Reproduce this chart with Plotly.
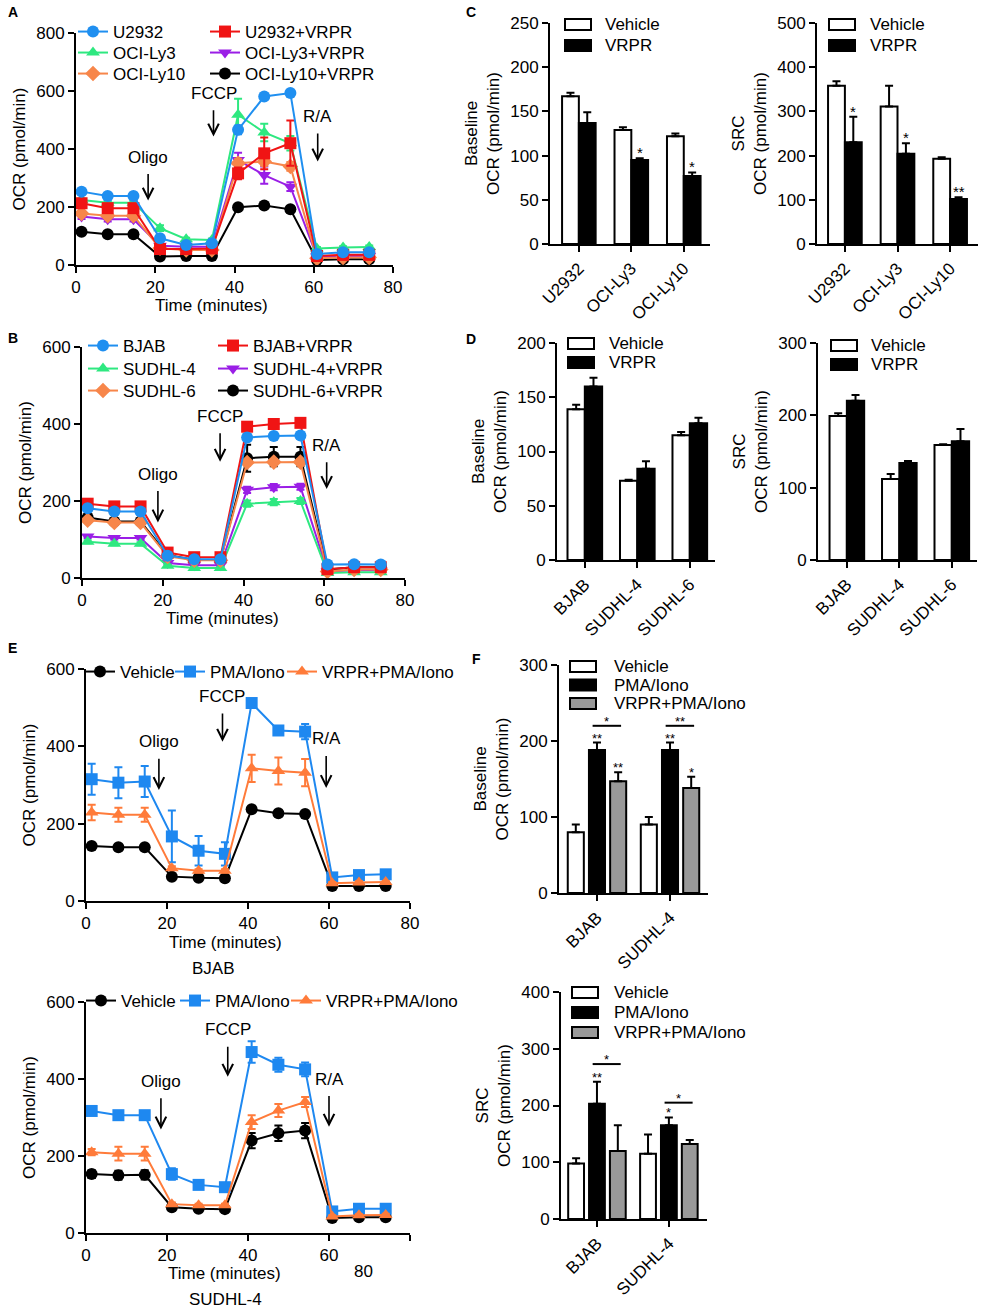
import plotly.graph_objects as go

W, H = 988, 1313
FONT = "Arial, Liberation Sans, sans-serif"
FS = 17

# ---------------- data ----------------
time_min = [1.4, 8.0, 14.5, 21.2, 27.8, 34.3, 40.9, 47.5, 54.1, 60.8, 67.4, 74.0]

# Panel A
a_u2932 = [253, 238, 238, 92, 69, 75, 466, 581, 593, 38, 44, 44]
a_ocily3 = [224, 215, 215, 127, 89, 86, 518, 457, 420, 57, 60, 62]
a_ocily10 = [178, 170, 170, 58, 52, 52, 351, 357, 340, 23, 26, 26]
a_u2932_vrpr = [213, 196, 196, 55, 55, 57, 316, 385, 420, 31, 35, 35]
a_ocily3_vrpr = [167, 158, 158, 66, 63, 63, 362, 310, 270, 29, 31, 31]
a_ocily10_vrpr = [115, 106, 106, 29, 31, 31, 199, 205, 192, 17, 20, 20]
a_u2932_err = [5, 5, 5, 8, 5, 5, 15, 8, 8, 5, 5, 5]
a_ocily3_err = [5, 5, 5, 10, 5, 5, 55, 30, 25, 5, 5, 5]
a_ocily10_err = [5, 5, 5, 5, 5, 5, 15, 15, 15, 3, 3, 3]
a_u2932_vrpr_err = [10, 10, 10, 8, 5, 5, 20, 55, 78, 5, 5, 5]
a_ocily3_vrpr_err = [8, 8, 8, 5, 5, 5, 25, 30, 15, 3, 3, 3]
a_ocily10_vrpr_err = [5, 5, 5, 3, 3, 3, 8, 8, 8, 3, 3, 3]

# Panel B
b_bjab = [181, 173, 173, 58, 49, 49, 365, 369, 370, 35, 36, 35]
b_sudhl4 = [94, 89, 89, 32, 26, 26, 193, 197, 200, 13, 15, 15]
b_sudhl6 = [150, 144, 144, 56, 46, 46, 300, 301, 301, 17, 22, 22]
b_bjab_vrpr = [193, 186, 186, 66, 54, 54, 393, 400, 403, 23, 28, 28]
b_sudhl4_vrpr = [108, 104, 104, 39, 33, 33, 229, 236, 237, 17, 20, 20]
b_sudhl6_vrpr = [157, 147, 147, 60, 47, 47, 311, 315, 315, 22, 28, 28]
b_small_err = [4, 4, 4, 3, 3, 3, 8, 8, 8, 2, 2, 2]
b_sudhl6_vrpr_err = [6, 6, 6, 4, 4, 4, 35, 25, 25, 3, 3, 3]

# Panel C
c_cells = ["U2932", "OCI-Ly3", "OCI-Ly10"]
c_base_vehicle = [167, 129, 122]
c_base_vehicle_err = [4, 3, 3]
c_base_vrpr = [137, 95, 77]
c_base_vrpr_err = [12, 2, 4]
c_base_vrpr_sig = ["", "*", "*"]
c_src_vehicle = [358, 311, 193]
c_src_vehicle_err = [10, 47, 3]
c_src_vrpr = [230, 204, 102]
c_src_vrpr_err = [58, 24, 4]
c_src_vrpr_sig = ["*", "*", "**"]

# Panel D
d_cells = ["BJAB", "SUDHL-4", "SUDHL-6"]
d_base_vehicle = [139, 73, 115]
d_base_vehicle_err = [4, 1, 3]
d_base_vrpr = [160, 84, 126]
d_base_vrpr_err = [8, 7, 5]
d_src_vehicle = [199, 112, 159]
d_src_vehicle_err = [4, 7, 1]
d_src_vrpr = [220, 134, 164]
d_src_vrpr_err = [8, 3, 17]

# Panel E (BJAB)
e1_vehicle = [142, 139, 139, 63, 60, 59, 237, 227, 225, 39, 39, 39]
e1_vehicle_err = [4, 4, 4, 4, 4, 4, 6, 6, 6, 3, 3, 3]
e1_pma = [315, 306, 309, 167, 130, 122, 512, 441, 438, 61, 67, 69]
e1_pma_err = [40, 40, 40, 67, 38, 30, 10, 10, 20, 4, 4, 4]
e1_vrpr = [229, 223, 223, 85, 78, 78, 343, 336, 332, 46, 48, 49]
e1_vrpr_err = [20, 18, 18, 5, 4, 4, 35, 35, 35, 3, 3, 3]

# Panel E (SUDHL-4)
e2_vehicle = [153, 150, 151, 67, 63, 62, 240, 259, 266, 39, 41, 41]
e2_vehicle_err = [10, 12, 12, 4, 4, 4, 20, 20, 20, 3, 3, 3]
e2_pma = [317, 306, 306, 153, 125, 119, 470, 437, 425, 56, 63, 63]
e2_pma_err = [8, 8, 8, 15, 6, 6, 28, 18, 18, 4, 4, 4]
e2_vrpr = [210, 206, 206, 75, 72, 72, 288, 318, 340, 43, 46, 47]
e2_vrpr_err = [8, 18, 18, 4, 4, 4, 18, 17, 13, 3, 3, 3]

# Panel F
f_cells = ["BJAB", "SUDHL-4"]
f_base_vehicle = [80, 90]
f_base_vehicle_err = [10, 10]
f_base_pma = [188, 188]
f_base_pma_err = [10, 10]
f_base_pma_sig = ["**", "**"]
f_base_vrpr = [147, 138]
f_base_vrpr_err = [12, 15]
f_base_vrpr_sig = ["**", "*"]
f_base_bracket_y = [220, 220]
f_base_bracket_sig = ["*", "**"]
f_src_vehicle = [98, 115]
f_src_vehicle_err = [9, 34]
f_src_pma = [203, 165]
f_src_pma_err = [39, 14]
f_src_pma_sig = ["**", "*"]
f_src_vrpr = [120, 132]
f_src_vrpr_err = [45, 7]
f_src_vrpr_sig = ["", ""]
f_src_bracket_y = [273, 205]
f_src_bracket_sig = ["*", "*"]

BLUE = "#1f8ff0"
GREEN = "#2ee880"
ORANGE = "#f7864a"
RED = "#f01414"
PURPLE = "#9a1ee6"
BLACK = "#000000"
E_BLUE = "#1e88f0"
E_ORANGE = "#ff7b3a"

fig = go.Figure()
annotations = []
shapes = []
layout = {}
legend_count = [0]


def xd(p0, p1):
    return [p0 / W, p1 / W]


def yd(top, bottom):
    return [1 - bottom / H, 1 - top / H]


def axname(i):
    return "" if i == 1 else str(i)


AX = dict(showline=True, linecolor="black", linewidth=2, ticks="outside",
          ticklen=6, tickwidth=2, tickcolor="black", showgrid=False,
          zeroline=False, mirror=False, automargin=False)


def text_at(px, py, t, fs=FS, xanchor="center"):
    annotations.append(dict(x=px / W, y=1 - py / H, xref="paper", yref="paper", text=t,
                            showarrow=False, xanchor=xanchor, yanchor="middle",
                            font=dict(size=fs, color="black")))


def set_axes(i, xdom, ydom, xrange, yrange, ytickvals, ytitle=None, xtickvals=None,
             xticktext=None, tickangle=0, fs=FS):
    s = axname(i)
    xa = dict(AX, domain=xdom, range=xrange, anchor="y" + s,
              tickfont=dict(size=fs, color="black", family=FONT),
              tickangle=tickangle)
    if xtickvals is not None:
        xa["tickvals"] = xtickvals
    if xticktext is not None:
        xa["ticktext"] = xticktext
    ya = dict(AX, domain=ydom, range=yrange, anchor="x" + s, tickvals=ytickvals,
              tickfont=dict(size=fs, color="black", family=FONT))
    if ytitle:
        ya["title"] = dict(text=ytitle, font=dict(size=fs, color="black"), standoff=6)
    layout["xaxis" + s] = xa
    layout["yaxis" + s] = ya


def new_legend(text_x, row_y):
    legend_count[0] += 1
    n = legend_count[0]
    key = "legend" if n == 1 else "legend%d" % n
    layout[key] = dict(bgcolor="rgba(0,0,0,0)", xanchor="left", yanchor="middle",
                       x=(text_x - 40) / W, y=1 - row_y / H,
                       font=dict(size=FS, color="black", family=FONT))
    return key


def line_tr(y, err, name, color, symbol, i, text_x, row_y, size=12):
    s = axname(i)
    fig.add_trace(go.Scatter(
        x=time_min, y=y, mode="lines+markers", name=name,
        line=dict(color=color, width=2),
        marker=dict(color=color, symbol=symbol, size=size, line=dict(width=0)),
        error_y=dict(type="data", array=err, visible=True, color=color,
                     thickness=2, width=4),
        xaxis="x" + s, yaxis="y" + s, legend=new_legend(text_x, row_y),
        cliponaxis=False))


def bar_tr(vals, errs, fill, offset, width, i):
    s = axname(i)
    n = len(vals)
    fig.add_trace(go.Bar(
        x=list(range(n)), y=vals, width=width, offset=offset,
        marker=dict(color=fill, line=dict(color="black", width=2)),
        error_y=dict(type="data", array=errs, arrayminus=[0] * n,
                     symmetric=False, color="black", thickness=2, width=4),
        showlegend=False, xaxis="x" + s, yaxis="y" + s))


def stars(vals, errs, sig, center, i, fs=15):
    s = axname(i)
    for k, (v, e, t) in enumerate(zip(vals, errs, sig)):
        if t:
            annotations.append(dict(x=k + center, y=v + e, xref="x" + s, yref="y" + s,
                                    text=t, showarrow=False, yanchor="bottom",
                                    yshift=-5, font=dict(size=fs, color="black")))


def arrow(i, x, y_tip, y_text, text):
    s = axname(i)
    annotations.append(dict(x=x, y=y_tip, ax=x, ay=y_text, xref="x" + s, yref="y" + s,
                            axref="x" + s, ayref="y" + s, text=text, showarrow=True,
                            arrowhead=5, arrowsize=1.3, arrowwidth=1.6, arrowcolor="black",
                            startstandoff=6, font=dict(size=FS, color="black")))


def bar_legend(x_box, y_top, step, items, text_dx, box_w=26, box_h=11):
    for k, (label, fill) in enumerate(items):
        y0 = y_top + k * step
        shapes.append(dict(type="rect", xref="paper", yref="paper",
                           x0=x_box / W, x1=(x_box + box_w) / W,
                           y0=1 - (y0 + box_h) / H, y1=1 - y0 / H,
                           line=dict(color="black", width=2), fillcolor=fill))
        text_at(x_box + text_dx, y0 + box_h / 2, label, xanchor="left")


def letter(px, py, t):
    text_at(px, py, "<b>%s</b>" % t, fs=14, xanchor="left")


# ---------------- Panel A ----------------
set_axes(1, xd(76, 393), yd(33, 265), [0, 80], [0, 800], [0, 200, 400, 600, 800],
         ytitle="OCR (pmol/min)", xtickvals=[0, 20, 40, 60, 80])
line_tr(a_ocily10_vrpr, a_ocily10_vrpr_err, "OCI-Ly10+VRPR", BLACK, "circle", 1, 245, 74)
line_tr(a_ocily3_vrpr, a_ocily3_vrpr_err, "OCI-Ly3+VRPR", PURPLE, "triangle-down", 1, 245, 53)
line_tr(a_ocily10, a_ocily10_err, "OCI-Ly10", ORANGE, "diamond", 1, 113, 74)
line_tr(a_ocily3, a_ocily3_err, "OCI-Ly3", GREEN, "triangle-up", 1, 113, 53)
line_tr(a_u2932_vrpr, a_u2932_vrpr_err, "U2932+VRPR", RED, "square", 1, 245, 32)
line_tr(a_u2932, a_u2932_err, "U2932", BLUE, "circle", 1, 113, 32)
arrow(1, 18.2, 222, 372, "Oligo")
arrow(1, 34.7, 443, 592, "FCCP")
arrow(1, 61.0, 357, 512, "R/A")
text_at(211, 305, "Time (minutes)")

# ---------------- Panel B ----------------
set_axes(2, xd(82, 405), yd(347, 578), [0, 80], [0, 600], [0, 200, 400, 600],
         ytitle="OCR (pmol/min)", xtickvals=[0, 20, 40, 60, 80])
line_tr(b_sudhl6_vrpr, b_sudhl6_vrpr_err, "SUDHL-6+VRPR", BLACK, "circle", 2, 253, 391)
line_tr(b_sudhl4_vrpr, b_small_err, "SUDHL-4+VRPR", PURPLE, "triangle-down", 2, 253, 369)
line_tr(b_sudhl4, b_small_err, "SUDHL-4", GREEN, "triangle-up", 2, 123, 369)
line_tr(b_sudhl6, b_small_err, "SUDHL-6", ORANGE, "diamond", 2, 123, 391)
line_tr(b_bjab_vrpr, b_small_err, "BJAB+VRPR", RED, "square", 2, 253, 346)
line_tr(b_bjab, b_small_err, "BJAB", BLUE, "circle", 2, 123, 346)
arrow(2, 18.8, 144, 270, "Oligo")
arrow(2, 34.2, 302, 420, "FCCP")
arrow(2, 60.6, 231, 345, "R/A")
text_at(222, 618, "Time (minutes)")

# ---------------- Panel C ----------------
set_axes(3, xd(550, 710), yd(23, 244), [-0.55, 2.5], [0, 250], [0, 50, 100, 150, 200, 250],
         ytitle="Baseline<br>OCR (pmol/min)", xtickvals=[0, 1, 2], xticktext=c_cells, tickangle=-45)
bar_tr(c_base_vehicle, c_base_vehicle_err, "white", -0.32, 0.32, 3)
bar_tr(c_base_vrpr, c_base_vrpr_err, "black", 0.0, 0.32, 3)
stars(c_base_vrpr, c_base_vrpr_err, c_base_vrpr_sig, 0.16, 3)
bar_legend(565, 19, 21, [("Vehicle", "white"), ("VRPR", "black")], 38)

set_axes(4, xd(817, 978), yd(23, 244), [-0.53, 2.53], [0, 500], [0, 100, 200, 300, 400, 500],
         ytitle="SRC<br>OCR (pmol/min)", xtickvals=[0, 1, 2], xticktext=c_cells, tickangle=-45)
bar_tr(c_src_vehicle, c_src_vehicle_err, "white", -0.32, 0.32, 4)
bar_tr(c_src_vrpr, c_src_vrpr_err, "black", 0.0, 0.32, 4)
stars(c_src_vrpr, c_src_vrpr_err, c_src_vrpr_sig, 0.16, 4)
bar_legend(829, 19, 21, [("Vehicle", "white"), ("VRPR", "black")], 39)

# ---------------- Panel D ----------------
set_axes(5, xd(557, 715), yd(343, 560), [-0.53, 2.48], [0, 200], [0, 50, 100, 150, 200],
         ytitle="Baseline<br>OCR (pmol/min)", xtickvals=[0, 1, 2], xticktext=d_cells, tickangle=-45)
bar_tr(d_base_vehicle, d_base_vehicle_err, "white", -0.33, 0.33, 5)
bar_tr(d_base_vrpr, d_base_vrpr_err, "black", 0.0, 0.33, 5)
bar_legend(568, 338, 19, [("Vehicle", "white"), ("VRPR", "black")], 39)

set_axes(6, xd(818, 977), yd(343, 560), [-0.55, 2.48], [0, 300], [0, 100, 200, 300],
         ytitle="SRC<br>OCR (pmol/min)", xtickvals=[0, 1, 2], xticktext=d_cells, tickangle=-45)
bar_tr(d_src_vehicle, d_src_vehicle_err, "white", -0.33, 0.33, 6)
bar_tr(d_src_vrpr, d_src_vrpr_err, "black", 0.0, 0.33, 6)
bar_legend(831, 340, 19, [("Vehicle", "white"), ("VRPR", "black")], 38)

# ---------------- Panel E ----------------
set_axes(7, xd(86, 410), yd(669, 901), [0, 80], [0, 600], [0, 200, 400, 600],
         ytitle="OCR (pmol/min)", xtickvals=[0, 20, 40, 60, 80])
line_tr(e1_vehicle, e1_vehicle_err, "Vehicle", BLACK, "circle", 7, 120, 672)
line_tr(e1_pma, e1_pma_err, "PMA/Iono", E_BLUE, "square", 7, 210, 672)
line_tr(e1_vrpr, e1_vrpr_err, "VRPR+PMA/Iono", E_ORANGE, "triangle-up", 7, 322, 672)
arrow(7, 18.0, 287, 412, "Oligo")
arrow(7, 33.7, 412, 529, "FCCP")
arrow(7, 59.3, 292, 419, "R/A")
text_at(225, 942, "Time (minutes)")
text_at(213, 968, "BJAB")

set_axes(8, xd(86, 410), yd(1002, 1233), [0, 80], [0, 600], [0, 200, 400, 600],
         ytitle="OCR (pmol/min)", xtickvals=[0, 20, 40, 60, 80],
         xticktext=["0", "20", "40", "60", ""])
line_tr(e2_vehicle, e2_vehicle_err, "Vehicle", BLACK, "circle", 8, 121, 1001)
line_tr(e2_pma, e2_pma_err, "PMA/Iono", E_BLUE, "square", 8, 215, 1001)
line_tr(e2_vrpr, e2_vrpr_err, "VRPR+PMA/Iono", E_ORANGE, "triangle-up", 8, 326, 1001)
arrow(8, 18.5, 269, 394, "Oligo")
arrow(8, 35.0, 406, 528, "FCCP")
arrow(8, 60.0, 276, 400, "R/A")
text_at(224, 1273, "Time (minutes)")
text_at(225, 1299, "SUDHL-4")
text_at(363, 1271, "80")

# ---------------- Panel F ----------------
F_OFF = [-0.40, -0.11, 0.18]
F_W = 0.22
set_axes(9, xd(559, 708), yd(665, 893), [-0.52, 1.52], [0, 300], [0, 100, 200, 300],
         ytitle="Baseline<br>OCR (pmol/min)", xtickvals=[0, 1], xticktext=f_cells, tickangle=-45)
bar_tr(f_base_vehicle, f_base_vehicle_err, "white", F_OFF[0], F_W, 9)
bar_tr(f_base_pma, f_base_pma_err, "black", F_OFF[1], F_W, 9)
bar_tr(f_base_vrpr, f_base_vrpr_err, "#999999", F_OFF[2], F_W, 9)
stars(f_base_pma, f_base_pma_err, f_base_pma_sig, F_OFF[1] + F_W / 2, 9, 13)
stars(f_base_vrpr, f_base_vrpr_err, f_base_vrpr_sig, F_OFF[2] + F_W / 2, 9, 13)
bar_legend(570, 661, 18.5, [("Vehicle", "white"), ("PMA/Iono", "black"),
                            ("VRPR+PMA/Iono", "#999999")], 42)

set_axes(10, xd(561, 707), yd(992, 1219), [-0.5, 1.53], [0, 400], [0, 100, 200, 300, 400],
         ytitle="SRC<br>OCR (pmol/min)", xtickvals=[0, 1], xticktext=f_cells, tickangle=-45)
bar_tr(f_src_vehicle, f_src_vehicle_err, "white", F_OFF[0], F_W, 10)
bar_tr(f_src_pma, f_src_pma_err, "black", F_OFF[1], F_W, 10)
bar_tr(f_src_vrpr, f_src_vrpr_err, "#999999", F_OFF[2], F_W, 10)
stars(f_src_pma, f_src_pma_err, f_src_pma_sig, F_OFF[1] + F_W / 2, 10, 13)
bar_legend(572, 987, 20, [("Vehicle", "white"), ("PMA/Iono", "black"),
                          ("VRPR+PMA/Iono", "#999999")], 40)

for i, ys, sigs in [(9, f_base_bracket_y, f_base_bracket_sig), (10, f_src_bracket_y, f_src_bracket_sig)]:
    s = axname(i)
    for k, (yb, t) in enumerate(zip(ys, sigs)):
        x0 = k + F_OFF[1] + F_W / 2 - 0.06
        x1 = k + F_OFF[2] + F_W / 2 + 0.04
        shapes.append(dict(type="line", xref="x" + s, yref="y" + s, x0=x0, x1=x1, y0=yb, y1=yb,
                           line=dict(color="black", width=2)))
        annotations.append(dict(x=(x0 + x1) / 2, y=yb, xref="x" + s, yref="y" + s, text=t,
                                showarrow=False, yanchor="bottom", yshift=-5,
                                font=dict(size=13, color="black")))

# panel letters
letter(6, 12, "A")
letter(6, 338, "B")
letter(464, 12, "C")
letter(464, 339, "D")
letter(6, 648, "E")
letter(470, 659, "F")

fig.update_layout(**layout)
fig.update_layout(width=W, height=H, margin=dict(l=0, r=0, t=0, b=0, autoexpand=False),
                  paper_bgcolor="white", plot_bgcolor="white", barmode="overlay",
                  font=dict(family=FONT, color="black"),
                  annotations=annotations, shapes=shapes)

fig.write_html("out.html", config={"displayModeBar": False},
               post_script="document.body.style.margin='0';")
